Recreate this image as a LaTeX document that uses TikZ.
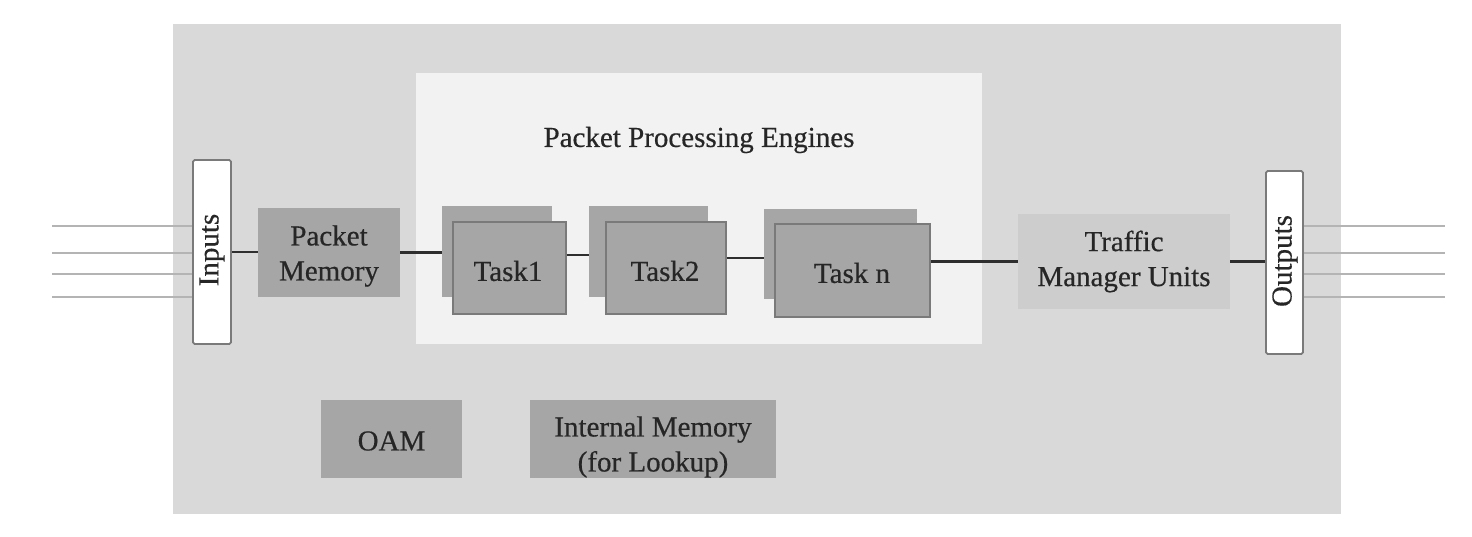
\documentclass[tikz,border=0pt]{standalone}
\usepackage{fontspec}
\setmainfont{Liberation Serif}[FakeBold=0.5]
\usetikzlibrary{calc}
\definecolor{outerbg}{HTML}{D9D9D9}
\definecolor{innerbg}{HTML}{F2F2F2}
\definecolor{boxgray}{HTML}{A6A6A6}
\definecolor{tmgray}{HTML}{CDCDCD}
\definecolor{edgegray}{HTML}{7A7A7A}
\definecolor{txt}{HTML}{262626}
\definecolor{linegray}{HTML}{B4B4B4}
\definecolor{conn}{HTML}{2E2E2E}
\tikzset{
  sz/.style 2 args={minimum width=#1*0.5pt, minimum height=#2*0.5pt, inner sep=0pt},
  base/.style={font=\fontsize{14.5}{17.5}\selectfont, text=txt, align=center},
  plainbox/.style={base, fill=boxgray, draw=none},
  taskback/.style={fill=boxgray, draw=none},
  taskfront/.style={base, fill=boxgray, draw=edgegray, line width=0.9pt},
  iobox/.style={base, fill=white, draw=edgegray, line width=0.9pt, rounded corners=0.8pt},
  wire/.style={draw=conn, line width=1.2pt},
  lane/.style={draw=linegray, line width=1pt}
}
\begin{document}
\begin{tikzpicture}[x=0.5pt, y=-0.5pt]
\useasboundingbox (0,0) rectangle (1472,536);
% frames
\node[sz={1168}{490}, fill=outerbg] (outer) at (757,269) {};
\node[sz={566}{271}, fill=innerbg] (inner) at (699,208.5) {};
\node[base] (title) at (699,140) {Packet Processing Engines};
% io boxes
\node[iobox, sz={38}{184}] (inputs) at (212,252) {};
\node[base, rotate=90] (inputslbl) at (212,250) {Inputs};
\node[iobox, sz={37}{183}] (outputs) at (1284.5,262.5) {};
\node[base, rotate=90] (outputslbl) at (1285,261) {Outputs};
% blocks
\node[plainbox, sz={142}{89}] (pmem) at (329,252.5) {};
\node[base] (pmemlbl) at (329,256) {Packet\\Memory};
\node[taskback, sz={110}{91}] (t1b) at (497,251.5) {};
\node[taskfront, sz={113}{92}] (t1f) at (509.5,268) {};
\node[base] (t1lbl) at (508,271) {Task1};
\node[taskback, sz={119}{91}] (t2b) at (648.5,251.5) {};
\node[taskfront, sz={120}{92}] (t2f) at (666,268) {};
\node[base] (t2lbl) at (665,271) {Task2};
\node[taskback, sz={153}{90}] (tnb) at (840.5,254) {};
\node[taskfront, sz={155}{93}] (tnf) at (852.5,270.5) {};
\node[base] (tnlbl) at (852,273) {Task n};
\node[fill=tmgray, sz={212}{95}] (traffic) at (1124,261.5) {};
\node[base] (trafficlbl) at (1124,261.5) {Traffic\\Manager Units};
\node[plainbox, sz={141}{78}] (oam) at (391.5,439) {};
\node[base] (oamlbl) at (391.5,441) {OAM};
\node[plainbox, sz={246}{78}] (intmem) at (653,439) {};
\node[base] (intmemlbl) at (653,447) {Internal Memory\\(for Lookup)};
% connectors
\draw[wire] (inputs.east) -- (inputs.east -| pmem.west);
\draw[wire] (pmem.east) -- (pmem.east -| t1b.west);
\draw[wire] ([yshift=6.5pt]t1f.east) -- ([yshift=6.5pt]t1f.east -| t2b.west);
\draw[wire] ([yshift=5pt]t2f.east) -- ([yshift=5pt]t2f.east -| tnb.west);
\draw[wire] (tnf.east |- traffic.west) -- (traffic.west);
\draw[wire] (traffic.east) -- (traffic.east -| outputs.west);
% lanes
\foreach \n/\yy in {1/226,2/253,3/274,4/297}{
  \coordinate (in\n) at (52,\yy);
  \coordinate (out\n) at (1445,\yy);
  \draw[lane] (in\n) -- (in\n -| inputs.west);
  \draw[lane] (outputs.east |- out\n) -- (out\n);
}
\end{tikzpicture}
\end{document}
